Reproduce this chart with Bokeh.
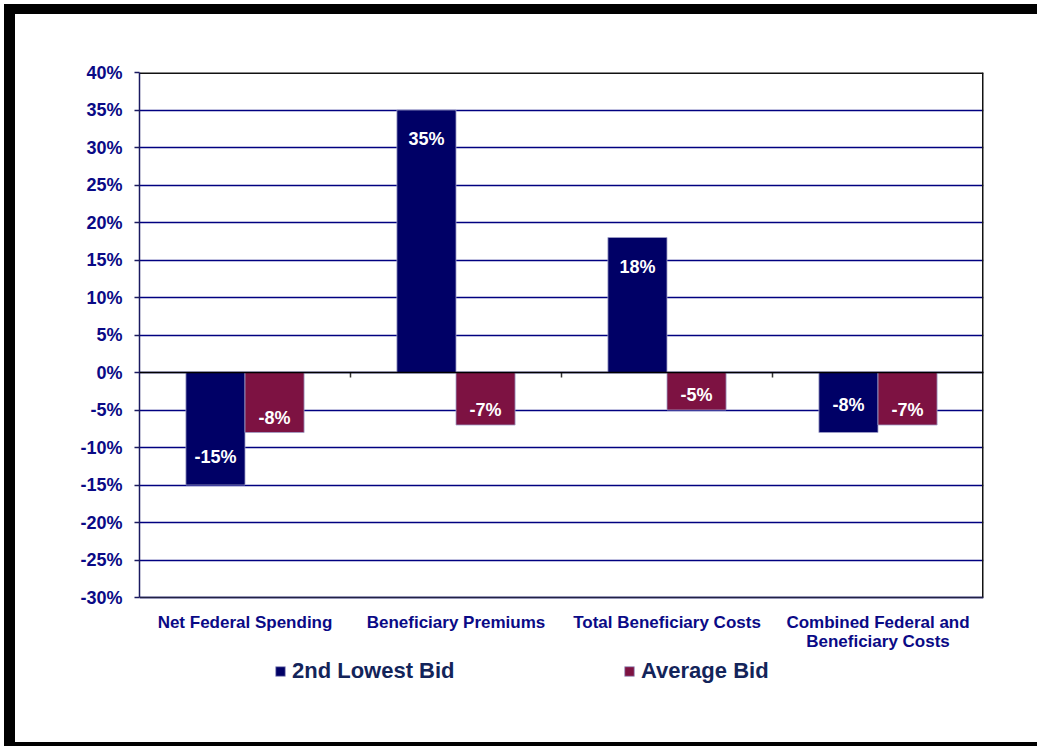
from math import pi

from bokeh.plotting import figure
from bokeh.models import (ColumnDataSource, FactorRange, Range1d, Span, Legend, LegendItem,
                          PrintfTickFormatter, FixedTicker)
from bokeh.transform import dodge
from bokeh.core.properties import value
from bokeh.embed import file_html
from bokeh.resources import INLINE

# ---- data ----
categories = ["Net Federal Spending", "Beneficiary Premiums", "Total Beneficiary Costs",
              "Combined Federal and\nBeneficiary Costs"]
second_lowest_bid = [-15, 35, 18, -8]
average_bid = [-8, -7, -5, -7]
series_names = ["2nd Lowest Bid", "Average Bid"]
y_ticks = [-30, -25, -20, -15, -10, -5, 0, 5, 10, 15, 20, 25, 30, 35, 40]
category_boundaries = [1, 2, 3]

# ---- styles / layout ----
BLUE = "#000066"
RED = "#7D1242"
NAVY = "#0A0A86"
LEGEND_TXT = "#13245A"
FONT = "Liberation Sans"

PLOT_PX = 525      # pixel height of the gridded value area
FRAME_PX = 658     # frame extends below it to hold category labels and legend
y_lo, y_hi = y_ticks[0], y_ticks[-1]
y_min = y_lo - (FRAME_PX - PLOT_PX) * (y_hi - y_lo) / PLOT_PX
n_cat = len(categories)

src = ColumnDataSource(dict(
    cat=categories,
    s1=second_lowest_bid,
    s2=average_bid,
    l1=[f"{v}%" for v in second_lowest_bid],
    l2=[f"{v}%" for v in average_bid],
    o1=[29 if v >= 0 else -28 for v in second_lowest_bid],
    o2=[29 if v >= 0 else -15 for v in average_bid],
))

frame_shadow = ("-11px 0 0 0 black, 0 -10px 0 0 black, -11px -10px 0 0 black, "
                "0 4px 0 0 black, -11px 4px 0 0 black")

p = figure(x_range=FactorRange(factors=categories, range_padding=0),
           y_range=Range1d(y_min, y_hi),
           width=1022, height=728, frame_width=844, frame_height=FRAME_PX,
           output_backend="svg", toolbar_location=None,
           min_border_left=124, min_border_right=54, min_border_top=58, min_border_bottom=12,
           styles={"margin-left": "15px", "margin-top": "14px", "box-shadow": frame_shadow})

p.background_fill_color = "white"
p.border_fill_color = "white"
p.outline_line_color = None

# grid
p.xgrid.grid_line_color = None
p.ygrid.ticker = FixedTicker(ticks=y_ticks)
p.ygrid.grid_line_color = "#000080"
p.ygrid.grid_line_width = 1.5

# y axis
p.yaxis.ticker = FixedTicker(ticks=y_ticks)
p.yaxis.bounds = (y_lo, y_hi)
p.yaxis.formatter = PrintfTickFormatter(format="%d%%")
p.yaxis.axis_line_color = "#1a1a60"
p.yaxis.axis_line_width = 1.5
p.yaxis.major_tick_line_color = "#1a1a60"
p.yaxis.major_tick_line_width = 1.5
p.yaxis.major_tick_out = 5
p.yaxis.major_tick_in = 0
p.yaxis.minor_tick_line_color = None
p.yaxis.major_label_standoff = 12
p.yaxis.major_label_text_font = FONT
p.yaxis.major_label_text_font_style = "bold"
p.yaxis.major_label_text_font_size = "18px"
p.yaxis.major_label_text_color = NAVY

p.xaxis.visible = False

# bars
r1 = p.vbar(x=dodge("cat", -0.14, range=p.x_range), top="s1", bottom=0, width=0.28, source=src,
            fill_color=BLUE, line_color="#a0a0c8", line_width=0.8)
r2 = p.vbar(x=dodge("cat", 0.14, range=p.x_range), top="s2", bottom=0, width=0.28, source=src,
            fill_color=RED, line_color="#a0a0c8", line_width=0.8)

# plot-area border (top / right / bottom)
p.segment(x0=[0, n_cat], y0=[y_hi, y_lo], x1=[n_cat, n_cat], y1=[y_hi, y_hi],
          line_color="#111111", line_width=3)
p.segment(x0=[0], y0=[y_lo], x1=[n_cat], y1=[y_lo], line_color="#222244", line_width=1.5)

# zero line + category boundary ticks
p.add_layout(Span(location=0, dimension="width", line_color="black", line_width=1.5))
p.ray(x=category_boundaries, y=[0] * len(category_boundaries), length=5, length_units="screen",
      angle=-pi / 2, line_color="#333333", line_width=1.5)

# value labels
for col, lab, off, dx in (("s1", "l1", "o1", -0.14), ("s2", "l2", "o2", 0.14)):
    p.text(x=dodge("cat", dx, range=p.x_range), y=col, text=lab, y_offset=off, source=src,
           text_align="center", text_baseline="middle", text_color="white",
           text_font=value(FONT), text_font_style="bold", text_font_size="18px")

# category labels under the value area
p.text(x="cat", y=y_lo, text="cat", source=src, y_offset=15,
       text_align="center", text_baseline="top", text_color=NAVY,
       text_font=value(FONT), text_font_style="bold", text_font_size="17px",
       text_line_height=1.05)

# legend
legend = Legend(items=[LegendItem(label=series_names[0], renderers=[r1]),
                       LegendItem(label=series_names[1], renderers=[r2])],
                orientation="horizontal", location=(135, 46),
                glyph_width=12, glyph_height=12, label_standoff=6, spacing=124,
                label_width=207, label_height=24, padding=0, margin=0,
                border_line_color=None, background_fill_alpha=0,
                label_text_font=FONT, label_text_font_style="bold",
                label_text_font_size="22px", label_text_color=LEGEND_TXT)
p.add_layout(legend, "center")

open("out.html", "w").write(file_html(p, INLINE))
